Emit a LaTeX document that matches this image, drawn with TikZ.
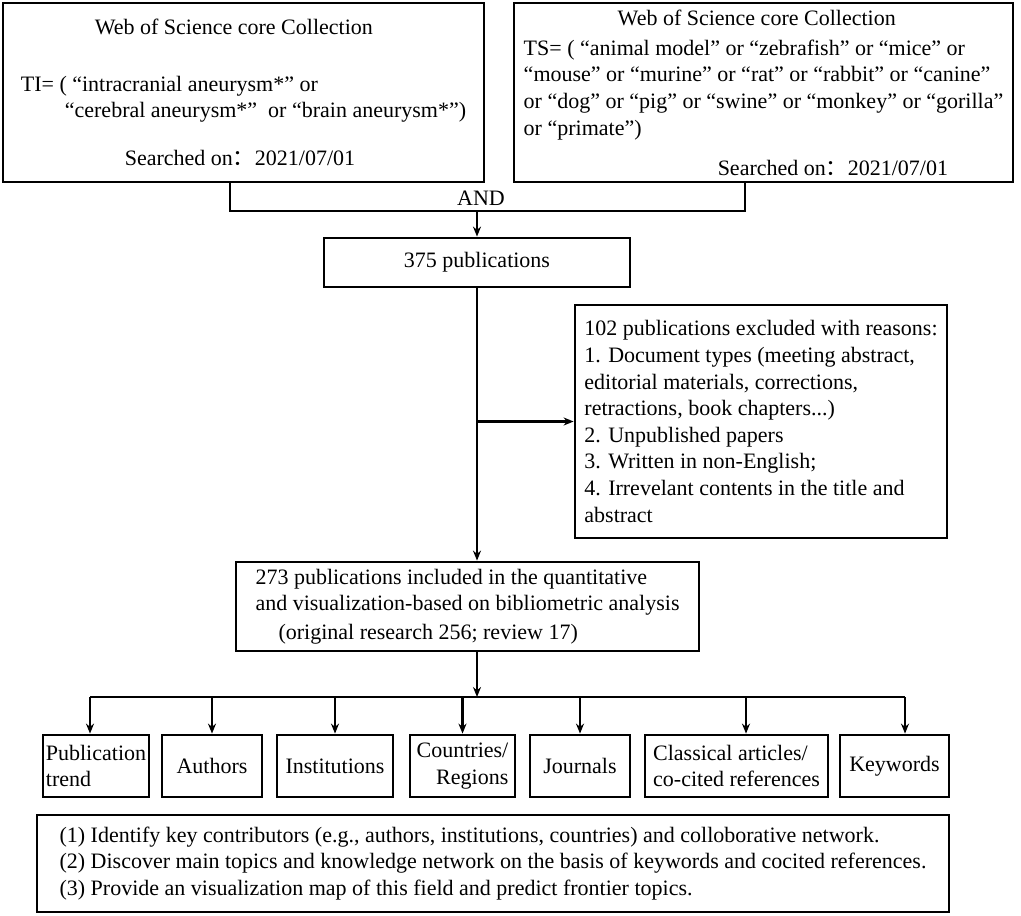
\documentclass[tikz,border=0pt]{standalone}
\usepackage{fontspec}
\setmainfont{Liberation Serif}
\newfontfamily\cjkfont{Noto Sans CJK SC}
\usetikzlibrary{arrows.meta}
\newcommand{\fwcolon}{{\cjkfont ：}}

\begin{document}
\begin{tikzpicture}[x=1pt,y=-1pt,
    box/.style={draw, rectangle, line width=1.4pt, inner sep=0pt, font=\fontsize{11}{13.3}\selectfont},
    link/.style={line width=1.2pt},
    arr/.style={link, -{Stealth[length=5pt,width=4pt]}}]
\useasboundingbox (0,0) rectangle (510.5,457.5);

% Search queries
\node[box, minimum width=240.5pt, minimum height=89.5pt, align=left] (wosA) at (121.75,46.25) {\hspace*{37pt}Web of Science core Collection\\[15.2pt]
    TI= ( “intracranial aneurysm*” or\\
    \hspace*{22pt}“cerebral aneurysm*”\ \ or “brain aneurysm*”)\\[10.7pt]
    \hspace*{52pt}Searched on\fwcolon 2021/07/01};
\node[box, minimum width=249.5pt, minimum height=89.5pt, align=left] (wosB) at (381.75,46.25) {\hspace*{47pt}Web of Science core Collection\\[1.7pt]
    TS= ( “animal model” or “zebrafish” or “mice” or\\
    “mouse” or “murine” or “rat” or “rabbit” or “canine”\\
    or “dog” or “pig” or “swine” or “monkey” or “gorilla”\\
    or “primate”)\\[6.7pt]
    \hspace*{97pt}Searched on\fwcolon 2021/07/01};

\coordinate (join) at (238.5,105.5);
\draw[link] ([xshift=-6.75pt]wosA.south) |- (join) -| ([xshift=-9.25pt]wosB.south);
\node[anchor=base, font=\fontsize{11}{13.3}\selectfont] (andlbl) at (240.5,102.5) {AND};

% Screening
\node[box, minimum width=153pt, minimum height=24.5pt] (pub375) at (238.5,131.25) {375 publications};
\node[box, minimum width=186pt, minimum height=116.5pt, align=left] (excl) at (380.5,210.75) {102 publications excluded with reasons:\\
    1. Document types (meeting abstract,\\
    editorial materials, corrections,\\
    retractions, book chapters...)\\
    2. Unpublished papers\\
    3. Written in non-English;\\
    4. Irrevelant contents in the title and\\
    abstract};
\node[box, minimum width=231.5pt, minimum height=44.5pt, align=left] (incl) at (233.75,303.25) {273 publications included in the quantitative\\
    and visualization-based on bibliometric analysis\\[1pt]
    \hspace*{11.5pt}(original research 256; review 17)};

\draw[arr] (join) -- (pub375.north);
\draw[arr] (pub375.south) -- (pub375.south |- incl.north);
\draw[arr] (pub375.south |- excl.west) -- (excl.west);

% Analyses
\coordinate (bus) at (238.5,348.5);
\node[box, minimum width=53pt, minimum height=31pt, align=left] (trend) at (48,383) {Publication\\trend};
\node[box, minimum width=50pt, minimum height=31pt] (authors) at (106,383) {Authors};
\node[box, minimum width=58pt, minimum height=31pt] (inst) at (167.5,383) {Institutions};
\node[box, minimum width=52.5pt, minimum height=31pt, align=right] (country) at (231.25,383) {Countries/\\Regions};
\node[box, minimum width=50pt, minimum height=31pt] (journal) at (290,383) {Journals};
\node[box, minimum width=91.5pt, minimum height=31pt, align=left] (classic) at (368.25,383) {Classical articles/\\co-cited references};
\node[box, minimum width=54.5pt, minimum height=31pt] (keyword) at (447.25,383) {Keywords};

\draw[arr] (pub375.south |- incl.south) -- (bus);
\draw[link] ([xshift=-3pt]trend.north |- bus) -- ([xshift=5.25pt]keyword.north |- bus);
\draw[arr] ([xshift=-3pt]trend.north |- bus) -- ([xshift=-3pt]trend.north);
\draw[arr] (authors.north |- bus) -- (authors.north);
\draw[arr] (inst.north |- bus) -- (inst.north);
\draw[arr] (country.north |- bus) -- (country.north);
\draw[arr] (journal.north |- bus) -- (journal.north);
\draw[arr] ([xshift=4.75pt]classic.north |- bus) -- ([xshift=4.75pt]classic.north);
\draw[arr] ([xshift=5.25pt]keyword.north |- bus) -- ([xshift=5.25pt]keyword.north);

% Aims
\node[box, minimum width=456pt, minimum height=48.5pt, align=left] (aims) at (246.5,431.75) {(1) Identify key contributors (e.g., authors, institutions, countries) and colloborative network.\\
    (2) Discover main topics and knowledge network on the basis of keywords and cocited references.\\
    (3) Provide an visualization map of this field and predict frontier topics.};
\end{tikzpicture}
\end{document}
